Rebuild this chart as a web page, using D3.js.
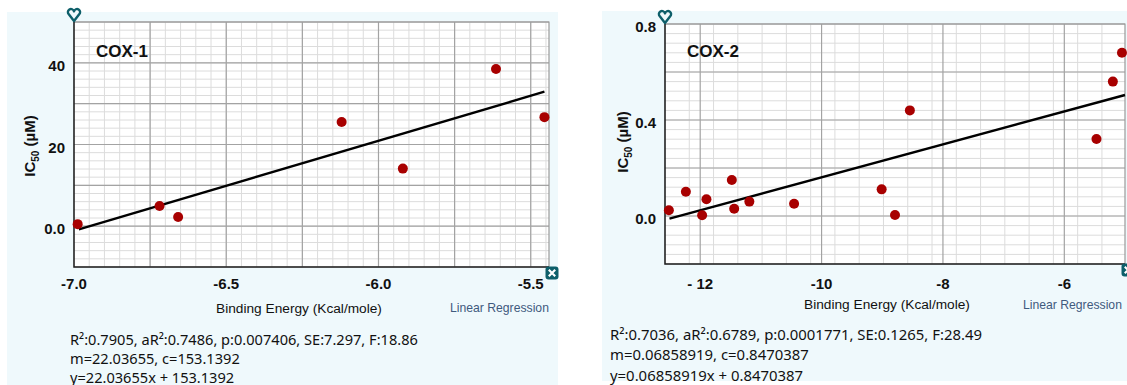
<!DOCTYPE html>
<html>
<head>
<meta charset="utf-8">
<script src="https://cdn.jsdelivr.net/npm/d3@7"></script>
<style>
  body { margin: 0; background: #fff; }
  svg { display: block; }
</style>
</head>
<body>
<svg id="chart" width="1127" height="385"></svg>
<script>
// COX-1 points (binding energy, IC50)
const cox1Energy = [-6.988, -6.719, -6.658, -6.121, -5.920, -5.614, -5.455];
const cox1IC50 = [0.5, 4.95, 2.25, 25.5, 14.1, 38.5, 26.7];
const cox1Fit = [22.03655, 153.1392];
const cox1FitRange = [-6.984, -5.455];
const cox1XTicks = [-7.0, -6.5, -6.0, -5.5];
const cox1XLabels = ["-7.0", "-6.5", "-6.0", "-5.5"];
const cox1YTicks = [0, 20, 40];
const cox1YLabels = ["0.0", "20", "40"];
const cox1Stats = [
  "R²:0.7905, aR²:0.7486, p:0.007406, SE:7.297, F:18.86",
  "m=22.03655, c=153.1392",
  "y=22.03655x + 153.1392"
];

// COX-2 points
const cox2Energy = [-12.516, -12.236, -11.897, -11.968, -11.479, -11.44, -11.19, -10.453, -9.01, -8.79, -8.545, -5.47, -5.2, -5.05];
const cox2IC50 = [0.024, 0.101, 0.070, 0.003, 0.150, 0.030, 0.060, 0.051, 0.111, 0.004, 0.440, 0.321, 0.56, 0.68];
const cox2Fit = [0.06858919, 0.8470387];
const cox2FitRange = [-12.506, -5.0];
const cox2XTicks = [-12, -10, -8, -6];
const cox2XLabels = ["- 12", "-10", "-8", "-6"];
const cox2YTicks = [0, 0.4, 0.8];
const cox2YLabels = ["0.0", "0.4", "0.8"];
const cox2Stats = [
  "R²:0.7036, aR²:0.6789, p:0.0001771, SE:0.1265, F:28.49",
  "m=0.06858919, c=0.8470387",
  "y=0.06858919x + 0.8470387"
];

const svg = d3.select('#chart');
const teal = '#0e5f6a';
const tickFont = '"Liberation Sans", Arial, sans-serif';

const drawPanel = (p) => {

	let g = svg.append('g');

	g.append('rect')
	.attr('x', p.bg[0]).attr('y', p.bg[1])
	.attr('width', p.bg[2]).attr('height', p.bg[3])
	.attr('fill', '#eff9fc');

	let x = d3.scaleLinear().domain(p.xDomain).range([p.left, p.right]);
	let y = d3.scaleLinear().domain(p.yDomain).range([p.bottom, p.top]);

	let plot = g.append('g');

	plot.append('rect')
	.attr('x', p.left).attr('y', p.top)
	.attr('width', p.right - p.left).attr('height', p.bottom - p.top)
	.attr('fill', '#fff');

	// minor grid
	let xMinor = d3.range(p.xDomain[0], p.xDomain[1] + 1e-9, p.xMinor).filter(v => x(v) > p.left + 1);
	let yMinor = d3.range(p.yDomain[0], p.yDomain[1] + 1e-9, p.yMinor).filter(v => y(v) < p.bottom - 1);

	plot.selectAll('.vminor').data(xMinor).enter().append('line')
	.attr('x1', d => x(d)).attr('x2', d => x(d))
	.attr('y1', p.top).attr('y2', p.bottom)
	.attr('stroke', '#dcdcdc').attr('stroke-width', 1);

	plot.selectAll('.hminor').data(yMinor).enter().append('line')
	.attr('y1', d => y(d)).attr('y2', d => y(d))
	.attr('x1', p.left).attr('x2', p.right)
	.attr('stroke', '#dcdcdc').attr('stroke-width', 1);

	// major grid
	let xMajor = d3.range(p.xMajorStart, p.xDomain[1] + 1e-9, p.xMajor);
	let yMajor = d3.range(p.yDomain[0], p.yDomain[1] + 1e-9, p.yMajorStep);

	plot.selectAll('.vmajor').data(xMajor).enter().append('line')
	.attr('x1', d => x(d)).attr('x2', d => x(d))
	.attr('y1', p.top).attr('y2', p.bottom)
	.attr('stroke', '#a3a3a3').attr('stroke-width', 1.2);

	plot.selectAll('.hmajor').data(yMajor).enter().append('line')
	.attr('y1', d => y(d)).attr('y2', d => y(d))
	.attr('x1', p.left).attr('x2', p.right)
	.attr('stroke', '#a3a3a3').attr('stroke-width', 1.2);

	// border
	plot.append('path')
	.attr('d', `M${p.left},${p.top}H${p.right}V${p.bottom}`)
	.attr('fill', 'none').attr('stroke', '#9a9a9a').attr('stroke-width', 1.2);

	plot.append('path')
	.attr('d', `M${p.left},${p.top}V${p.bottom}H${p.right}`)
	.attr('fill', 'none').attr('stroke', '#222').attr('stroke-width', 1.6);

	// regression line
	let fitLine = d3.line().x(d => x(d)).y(d => y(p.fit[0] * d + p.fit[1]));

	plot.append('path')
	.datum(p.fitRange)
	.attr('d', fitLine)
	.attr('fill', 'none')
	.attr('stroke', '#000')
	.attr('stroke-width', 2.4);

	// points
	plot.selectAll('circle')
	.data(p.xs.map((v, i) => [v, p.ys[i]]))
	.enter()
	.append('circle')
	.attr('cx', d => x(d[0]))
	.attr('cy', d => y(d[1]))
	.attr('r', 5)
	.attr('fill', '#a80000');

	// tick labels
	g.selectAll('.xt').data(p.xTicks).enter().append('text')
	.attr('x', d => x(d)).attr('y', 289)
	.attr('text-anchor', 'middle')
	.style('font', `bold 15px ${tickFont}`)
	.attr('fill', '#111')
	.text((d, i) => p.xLabels[i]);

	g.selectAll('.yt').data(p.yTicks).enter().append('text')
	.attr('x', p.left - 9).attr('y', d => y(d) + 8)
	.attr('text-anchor', 'end')
	.style('font', `bold 15px ${tickFont}`)
	.attr('fill', '#111')
	.text((d, i) => p.yLabels[i]);

	// title
	g.append('text')
	.attr('x', p.left + 22).attr('y', 57)
	.style('font', `bold 17px ${tickFont}`)
	.attr('fill', '#111')
	.text(p.title);

	// y axis title
	let yt = g.append('text')
	.attr('transform', `translate(${p.yTitle[0]},${p.yTitle[1]}) rotate(-90)`)
	.attr('text-anchor', 'middle')
	.style('font', `bold 15px ${tickFont}`)
	.attr('fill', '#111');
	yt.append('tspan').text('IC');
	yt.append('tspan').attr('dy', 4).style('font-size', '10px').text('50');
	yt.append('tspan').attr('dy', -4).text(' (µM)');

	// x axis title
	g.append('text')
	.attr('x', p.xTitle[0]).attr('y', p.xTitle[1])
	.attr('text-anchor', 'middle')
	.style('font', `13.7px ${tickFont}`)
	.attr('fill', '#111')
	.text('Binding Energy (Kcal/mole)');

	g.append('text')
	.attr('x', p.lr[0]).attr('y', p.lr[1])
	.style('font', `12.2px ${tickFont}`)
	.attr('fill', '#3f5a7e')
	.text('Linear Regression');

	// axis icons
	g.append('path')
	.attr('transform', `translate(${p.left},${p.top - 7})`)
	.attr('d', 'M0,6 L-5,-0.5 A3.1,3.1 0 1 1 0,-3.6 A3.1,3.1 0 1 1 5,-0.5 Z')
	.attr('fill', 'none').attr('stroke', teal).attr('stroke-width', 2.4)
	.attr('stroke-linejoin', 'round');

	let xi = g.append('g').attr('transform', `translate(${p.right + 3},${p.bottom + 6})`);
	xi.append('rect').attr('x', -6.5).attr('y', -6.5).attr('width', 13).attr('height', 13)
	.attr('rx', 3).attr('fill', teal);
	xi.append('path').attr('d', 'M-3.2,-3.2L3.2,3.2M3.2,-3.2L-3.2,3.2')
	.attr('stroke', '#fff').attr('stroke-width', 2.2);

	// stats
	g.selectAll('.st').data(p.stats).enter().append('text')
	.attr('x', p.statsPos[0]).attr('y', (d, i) => p.statsPos[1] + i * p.statsGap)
	.style('font', `${p.statsSize}px "Noto Sans", sans-serif`)
	.attr('fill', '#111')
	.text(d => d);
}

drawPanel({
	bg: [7, 12, 551, 373],
	left: 74, right: 549, top: 22, bottom: 267,
	xDomain: [-7.0, -5.44], yDomain: [-10, 50],
	xMajorStart: -6.75, xMajor: 0.25, xMinor: 0.05,
	yMajorStep: 10, yMinor: 2,
	xs: cox1Energy, ys: cox1IC50,
	fit: cox1Fit, fitRange: cox1FitRange,
	xTicks: cox1XTicks, xLabels: cox1XLabels,
	yTicks: cox1YTicks, yLabels: cox1YLabels,
	title: 'COX-1',
	yTitle: [35, 146],
	xTitle: [299, 312.5],
	lr: [450, 312],
	stats: cox1Stats,
	statsPos: [70, 344.5], statsGap: 19, statsSize: 14.6
});

drawPanel({
	bg: [602, 11, 525, 370],
	left: 665, right: 1125, top: 24, bottom: 264,
	xDomain: [-12.58, -5.0], yDomain: [-0.2, 0.8],
	xMajorStart: -12, xMajor: 2, xMinor: 0.4,
	yMajorStep: 0.2, yMinor: 0.04,
	xs: cox2Energy, ys: cox2IC50,
	fit: cox2Fit, fitRange: cox2FitRange,
	xTicks: cox2XTicks, xLabels: cox2XLabels,
	yTicks: cox2YTicks, yLabels: cox2YLabels,
	title: 'COX-2',
	yTitle: [628, 142],
	xTitle: [887, 308.5],
	lr: [1023, 308.5],
	stats: cox2Stats,
	statsPos: [610, 339.5], statsGap: 20.5, statsSize: 14.9
});
</script>
</body>
</html>
